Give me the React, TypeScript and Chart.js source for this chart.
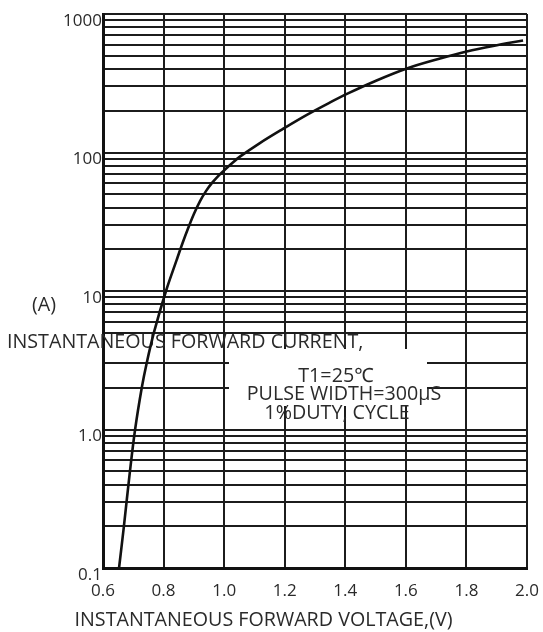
import { useEffect, useRef } from "react";
import { Chart, registerables } from "chart.js";

Chart.register(...registerables);

// Forward voltage (V) vs instantaneous forward current (A)
const voltage = [0.653, 0.669, 0.689, 0.706, 0.728, 0.744, 0.768, 0.808, 0.843, 0.8625, 0.882, 0.9005, 0.92, 0.94, 0.96, 0.981, 1.003, 1.026, 1.052, 1.118, 1.194, 1.273, 1.35, 1.409, 1.492, 1.603, 1.713, 1.801, 1.888, 1.987];
const current = [0.1, 0.2, 0.5, 1.0, 2, 3, 5, 10, 16.7, 22.1, 28.7, 36.1, 44.4, 52.6, 60.3, 67.9, 75.4, 83.6, 93.3, 117, 148, 187, 230, 267, 323, 404, 477, 536, 588, 644];

const xTickValues = [0.6, 0.8, 1.0, 1.2, 1.4, 1.6, 1.8, 2.0];
const xTickLabels = ["0.6", "0.8", "1.0", "1.2", "1.4", "1.6", "1.8", "2.0"];

const yMajorValues = [0.1, 1, 10, 100, 1000];
const yMajorLabels = ["0.1", "1.0", "10", "100", "1000"];
const yGridValues = [
  0.1, 0.2, 0.3, 0.4, 0.5, 0.6, 0.7, 0.8, 0.9,
  1, 2, 3, 4, 5, 6, 7, 8, 9,
  10, 20, 30, 40, 50, 60, 70, 80, 90,
  100, 200, 300, 400, 500, 600, 700, 800, 900,
  1000,
];
const yHiddenGrid = [4];

const xTitle = "INSTANTANEOUS FORWARD VOLTAGE,(V)";
const yTitle = "INSTANTANEOUS FORWARD CURRENT,";
const yUnit = "(A)";
const noteLines = ["T1=25\u2103", "PULSE WIDTH=300\u00b5S", "1%DUTY, CYCLE"];

const FONT = "'Open Sans', 'Noto Sans', sans-serif";
const TEXT = "#2a2a2a";
const GRID = "#1c1c1c";
const LABEL_SIZE = 19.7;
const TICK_SIZE = 17;

const sameLog = (a: number, b: number) => Math.abs(Math.log10(a) - Math.log10(b)) < 1e-6;

const overlayPlugin = {
  id: "overlay",
  beforeDatasetsDraw(chart: any) {
    const ctx = chart.ctx;
    ctx.save();
    // white panel behind the test-condition note
    ctx.fillStyle = "#ffffff";
    ctx.fillRect(229, 349, 198, 57);
    ctx.fillStyle = TEXT;
    ctx.font = `${LABEL_SIZE}px ${FONT}`;
    ctx.textBaseline = "middle";
    ctx.textAlign = "left";
    ctx.fillText(yTitle, 7, 342);
    ctx.textAlign = "center";
    ctx.fillText(yUnit, 44, 305);
    ctx.fillText(noteLines[0], 336, 376);
    ctx.fillText(noteLines[1], 344, 394);
    ctx.fillText(noteLines[2], 337, 413);
    ctx.restore();
  },
};

export default function App() {
  const ref = useRef<HTMLCanvasElement>(null);
  useEffect(() => {
    const titleHeight = LABEL_SIZE * 1.2;
    const chart = new Chart(ref.current!, {
      type: "line",
      data: {
        datasets: [
          {
            data: voltage.map((v, i) => ({ x: v, y: current[i] })),
            borderColor: "#111111",
            borderWidth: 2.6,
            pointRadius: 0,
            fill: false,
            tension: 0.35,
          },
        ],
      },
      options: {
        animation: false,
        responsive: false,
        layout: { padding: { top: 14, right: 16, left: 0, bottom: 0 } },
        plugins: {
          legend: { display: false },
          tooltip: { enabled: false },
          title: {
            display: true,
            position: "bottom",
            text: xTitle,
            color: TEXT,
            font: { family: FONT, size: LABEL_SIZE, weight: "normal" },
            padding: { top: 0, bottom: 0 },
          },
        },
        scales: {
          x: {
            type: "linear",
            min: 0.6,
            max: 2.0,
            afterBuildTicks: (s: any) => {
              s.ticks = xTickValues.map((v) => ({ value: v }));
            },
            afterFit: (s: any) => {
              s.height = 632 - 568 - titleHeight;
            },
            ticks: {
              autoSkip: false,
              maxRotation: 0,
              padding: 0,
              color: TEXT,
              font: { family: FONT, size: TICK_SIZE },
              callback: (_v: any, i: number) => xTickLabels[i],
            },
            grid: {
              color: GRID,
              lineWidth: 2,
              drawTicks: true,
              tickLength: 13,
              tickColor: "rgba(0,0,0,0)",
            },
            border: { color: "#111", width: 3 },
          },
          y: {
            type: "logarithmic",
            min: 0.1,
            max: 1000,
            afterBuildTicks: (s: any) => {
              s.ticks = yGridValues.map((v) => ({ value: v }));
            },
            afterFit: (s: any) => {
              s.width = 103;
            },
            ticks: {
              autoSkip: false,
              padding: 1,
              labelOffset: 7,
              color: TEXT,
              font: { family: FONT, size: TICK_SIZE },
              callback: (v: any) => {
                const k = yMajorValues.findIndex((m) => sameLog(m, Number(v)));
                return k >= 0 ? yMajorLabels[k] : "";
              },
            },
            grid: {
              lineWidth: 2,
              drawTicks: false,
              color: (c: any) =>
                c.tick && yHiddenGrid.some((h) => sameLog(h, c.tick.value)) ? "rgba(0,0,0,0)" : GRID,
            },
            border: { color: "#111", width: 3 },
          },
        },
      },
      plugins: [overlayPlugin],
    } as any);
    return () => chart.destroy();
  }, []);
  return (
    <canvas
      ref={ref}
      width={543}
      height={632}
      style={{ position: "absolute", left: 0, top: 0, width: 543, height: 632 }}
    />
  );
}
